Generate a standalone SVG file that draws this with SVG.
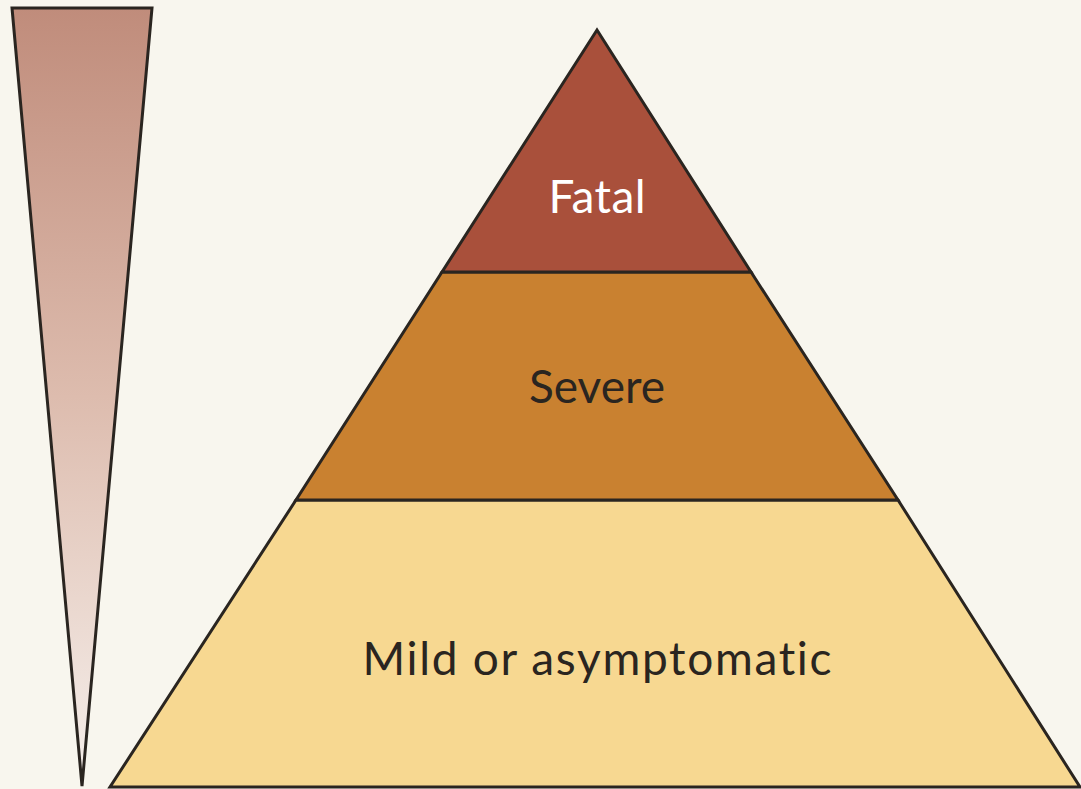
<svg xmlns="http://www.w3.org/2000/svg" width="1081" height="789" viewBox="0 0 1081 789">
<defs>
<linearGradient id="wedgeGrad" x1="0" y1="0" x2="0" y2="1">
<stop offset="0" stop-color="#C08C7B"/>
<stop offset="0.5" stop-color="#DDBCAE"/>
<stop offset="1" stop-color="#F6F0EC"/>
</linearGradient>
<style>
.edge{stroke:#2A2520;stroke-width:3;stroke-linejoin:miter}
.lbl{font-family:Lato,"Open Sans","Liberation Sans",sans-serif;font-size:46px;text-anchor:middle;font-variant-ligatures:none;font-feature-settings:"liga" 0,"clig" 0}
</style>
</defs>
<rect x="0" y="0" width="1081" height="789" fill="#F8F6EE"/>
<g id="wedge">
<polygon class="edge" points="12,8 152,8 82,786" fill="url(#wedgeGrad)"/>
</g>
<g id="mild">
<polygon class="edge" points="296,500 898,500 1080,787 110,787" fill="#F7D891"/>
<text class="lbl" x="597" y="675" fill="#2A2520" textLength="469" lengthAdjust="spacing">Mild or asymptomatic</text>
</g>
<g id="severe">
<polygon class="edge" points="442,272 751,272 898,500 296,500" fill="#C98130"/>
<text class="lbl" x="597" y="403" fill="#2A2520" textLength="136" lengthAdjust="spacing">Severe</text>
</g>
<g id="fatal">
<polygon class="edge" points="597,30 751,272 442,272" fill="#A9503B"/>
<text class="lbl" x="597" y="213" fill="#FFFFFF" textLength="97" lengthAdjust="spacing">Fatal</text>
</g>
<g id="connectors"></g>
</svg>
